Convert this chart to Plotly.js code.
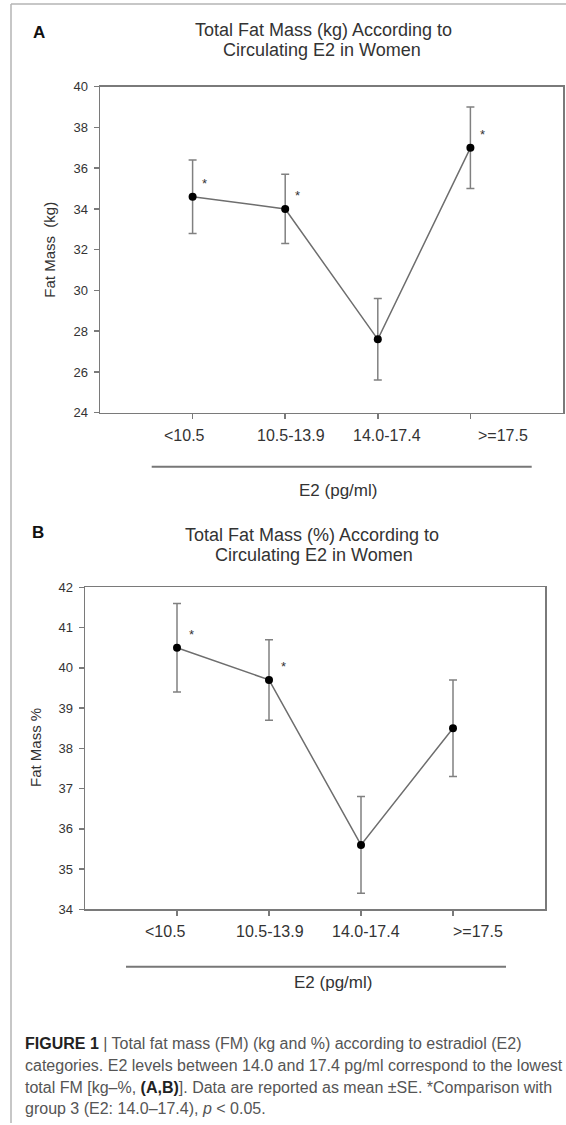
<!DOCTYPE html>
<html>
<head>
<meta charset="utf-8">
<script src="https://cdn.plot.ly/plotly-3.0.1.min.js"></script>
<style>html,body{margin:0;padding:0;background:#fff;}#chart{width:566px;height:1125px;}</style>
</head>
<body>
<div id="chart"></div>
<script>
// ---- data ----
const categories = ['<10.5', '10.5-13.9', '14.0-17.4', '>=17.5'];
const categoryLabels = ['&lt;10.5', '10.5-13.9', '14.0-17.4', '&gt;=17.5'];
const fatMassKg = [34.6, 34.0, 27.6, 37.0];
const fatMassKgSE = [1.8, 1.7, 2.0, 2.0];
const fatMassPct = [40.5, 39.7, 35.6, 38.5];
const fatMassPctSE = [1.1, 1.0, 1.2, 1.2];
const significantKg = [true, true, false, true];
const significantPct = [true, true, false, false];
const yTicksKg = [24, 26, 28, 30, 32, 34, 36, 38, 40];
const yTicksPct = [34, 35, 36, 37, 38, 39, 40, 41, 42];
const titleA = ['Total Fat Mass (kg) According to', 'Circulating E2 in Women'];
const titleB = ['Total Fat Mass (%) According to', 'Circulating E2 in Women'];
const yTitleA = 'Fat Mass  (kg)';
const yTitleB = 'Fat Mass %';
const xTitle = 'E2 (pg/ml)';
const captionLines = [
  '<b style="color:#222">FIGURE 1</b> | Total fat mass (FM) (kg and %) according to estradiol (E2)',
  'categories. E2 levels between 14.0 and 17.4 pg/ml correspond to the lowest',
  'total FM [kg–%, <b style="color:#222">(A,B)</b>]. Data are reported as mean ±SE. *Comparison with',
  'group 3 (E2: 14.0–17.4), <i>p</i> &lt; 0.05.'
];

// ---- layout helpers (pixel -> paper) ----
const W = 566, H = 1125;
const px = v => v / W;
const py = v => 1 - v / H;
const FONT = 'Arial, "Liberation Sans", sans-serif';
const gray = '#7a7a7a';
const txt = '#333';

function trace(vals, se, xa, ya) {
  return {
    type: 'scatter', mode: 'lines+markers',
    x: categories, y: vals, xaxis: xa, yaxis: ya,
    line: {color: '#6e6e6e', width: 1.5},
    marker: {color: '#000', size: 8},
    error_y: {type: 'data', array: se, visible: true, color: '#808080', thickness: 1.5, width: 4},
    showlegend: false, hoverinfo: 'skip', cliponaxis: false
  };
}

function xaxisDef(domain, anchor) {
  return {
    domain: domain, anchor: anchor, type: 'category',
    range: [-1, 4], showgrid: false, zeroline: false,
    showline: true, mirror: true, linecolor: gray, linewidth: 1.5,
    ticks: 'outside', ticklen: 5, tickcolor: gray, tickwidth: 1.5,
    showticklabels: false, fixedrange: true
  };
}
function yaxisDef(domain, anchor, range, tickvals) {
  return {
    domain: domain, anchor: anchor, range: range, tickvals: tickvals,
    showgrid: false, zeroline: false,
    showline: true, mirror: true, linecolor: gray, linewidth: 1.5,
    ticks: 'outside', ticklen: 5, tickcolor: gray, tickwidth: 1.5,
    ticklabelstandoff: 3,
    tickfont: {family: FONT, size: 13, color: txt}, fixedrange: true
  };
}

const annotations = [];
function addText(text, x, y, size, opts) {
  annotations.push(Object.assign({
    text: text, x: x, y: y, xref: 'paper', yref: 'paper',
    xanchor: 'center', yanchor: 'middle', showarrow: false,
    font: {family: FONT, size: size, color: txt}
  }, opts || {}));
}

// Panel A
addText('<b>A</b>', px(38.5), py(32), 17, {font: {family: FONT, size: 17, color: '#111'}});
addText(titleA[0], px(323.5), py(29.5), 18);
addText(titleA[1], px(321.5), py(49.5), 18);
addText(yTitleA, px(50), py(249.7), 15, {textangle: -90});
addText(xTitle, px(338.3), py(491), 17);
// Panel B
addText('<b>B</b>', px(38), py(532.5), 17, {font: {family: FONT, size: 17, color: '#111'}});
addText(titleB[0], px(312), py(535), 18);
addText(titleB[1], px(314), py(555), 18);
addText(yTitleB, px(35), py(748), 15, {textangle: -90});
addText(xTitle, px(333.3), py(982.3), 17);

// category tick labels (placed at each category on the axis, with the small offsets of the original)
const labelShiftA = [-7.7, 6.2, 9, 32.3];
const labelShiftB = [-11.7, 1.4, 5, 25];
categories.forEach((c, i) => {
  annotations.push({text: categoryLabels[i], x: c, xref: 'x', y: py(435.7), yref: 'paper',
    xshift: labelShiftA[i], xanchor: 'center', yanchor: 'middle', showarrow: false,
    font: {family: FONT, size: 16, color: txt}});
  annotations.push({text: categoryLabels[i], x: c, xref: 'x2', y: py(931), yref: 'paper',
    xshift: labelShiftB[i], xanchor: 'center', yanchor: 'middle', showarrow: false,
    font: {family: FONT, size: 16, color: txt}});
});

// significance asterisks
categories.forEach((c, i) => {
  if (significantKg[i]) annotations.push({text: '*', x: c, y: fatMassKg[i], xref: 'x', yref: 'y',
    xshift: 12, yshift: 13, showarrow: false, font: {family: FONT, size: 13, color: txt}});
  if (significantPct[i]) annotations.push({text: '*', x: c, y: fatMassPct[i], xref: 'x2', yref: 'y2',
    xshift: 14, yshift: 13, showarrow: false, font: {family: FONT, size: 13, color: txt}});
});

// caption
const capY = [1043, 1065, 1087, 1108];
captionLines.forEach((t, i) => {
  addText(t, px(23), py(capY[i]), 16, {xanchor: 'left', font: {family: FONT, size: 16, color: '#555'}});
});

const shapes = [
  // outer frame (left and top edges)
  {type: 'line', xref: 'paper', yref: 'paper', x0: px(11), x1: px(11), y0: py(4), y1: py(1123), line: {color: '#b5b5b5', width: 1.5}},
  {type: 'line', xref: 'paper', yref: 'paper', x0: px(11), x1: px(570), y0: py(4), y1: py(4), line: {color: '#b5b5b5', width: 1.5}},
  // axis-title rules
  {type: 'line', xref: 'paper', yref: 'paper', x0: px(151.7), x1: px(531.7), y0: py(466.7), y1: py(466.7), line: {color: '#777', width: 2}},
  {type: 'line', xref: 'paper', yref: 'paper', x0: px(126), x1: px(506), y0: py(966.7), y1: py(966.7), line: {color: '#777', width: 2}}
];

const layout = {
  width: W, height: H,
  margin: {l: 0, r: 0, t: 0, b: 0},
  paper_bgcolor: '#fff', plot_bgcolor: '#fff',
  showlegend: false,
  font: {family: FONT, color: txt},
  xaxis: xaxisDef([px(100), px(563)], 'y'),
  yaxis: yaxisDef([py(412.7), py(86.7)], 'x', [24, 40], yTicksKg),
  xaxis2: xaxisDef([px(85), px(545)], 'y2'),
  yaxis2: yaxisDef([py(909.3), py(587.3)], 'x2', [34, 42], yTicksPct),
  annotations: annotations,
  shapes: shapes
};

Plotly.newPlot('chart', [
  trace(fatMassKg, fatMassKgSE, 'x', 'y'),
  trace(fatMassPct, fatMassPctSE, 'x2', 'y2')
], layout, {staticPlot: true, displayModeBar: false});
</script>
</body>
</html>
